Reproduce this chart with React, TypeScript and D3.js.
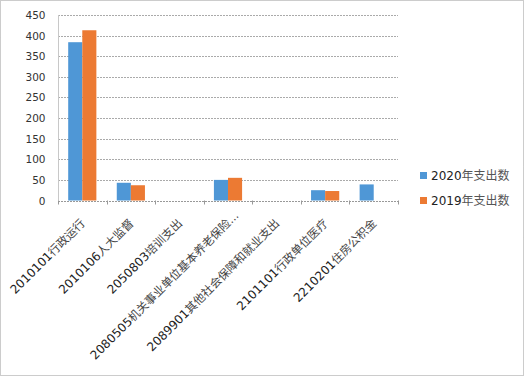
import React from 'react';
import * as d3 from 'd3';

const categories = [
  '2010101行政运行',
  '2010106人大监督',
  '2050803培训支出',
  '2080505机关事业单位基本养老保险…',
  '2089901其他社会保障和就业支出',
  '2101101行政单位医疗',
  '2210201住房公积金',
];
const seriesNames = ['2020年支出数', '2019年支出数'];
const values2020 = [384, 43, 0, 50, 0, 25, 39];
const values2019 = [413, 37, 0, 55, 0, 23, 0];
const yTicks = [0, 50, 100, 150, 200, 250, 300, 350, 400, 450];
const colors = ['#4f97d6', '#ec7a33'];

function splitLabel(s: string): [string, string, string] {
  const m = s.match(/^(\d+)(.*?)(…?)$/);
  return m ? [m[1], m[2], m[3]] : ['', s, ''];
}

const LATIN = '"DejaVu Sans", Verdana, sans-serif';
const CJK = '"Noto Sans CJK SC", sans-serif';

export default function App() {
  const W = 525, H = 377;
  const left = 58, right = 398, top = 15, bottom = 200.5;
  const x = d3.scaleBand<string>().domain(categories).range([left, right]).paddingInner(0.42).paddingOuter(0.21);
  const y = d3.scaleLinear().domain([0, 450]).range([bottom, top]);
  const xs = d3.scaleBand<string>().domain(seriesNames).range([0, x.bandwidth()]);
  const step = (right - left) / categories.length;
  const series = [values2020, values2019];
  return (
    <svg width={W} height={H} style={{ position: 'absolute', left: 0, top: 0, background: '#fff' }} fontFamily={LATIN}>
      <rect x={0.5} y={0.5} width={W - 2} height={H - 2} fill="#fff" stroke="#999" strokeDasharray="1,1" />
      {yTicks.map((t) => (
        <g key={t}>
          {t > 0 && (
            <line x1={left} x2={right} y1={Math.round(y(t)) + 0.5} y2={Math.round(y(t)) + 0.5} stroke="#aaa" strokeDasharray="2,1" />
          )}
          <text x={45.5} y={y(t) + 4} textAnchor="end" fontSize={10.5} fill="#333">{t}</text>
        </g>
      ))}
      <line x1={left + 0.5} x2={left + 0.5} y1={top} y2={bottom} stroke="#c8c8c8" />
      {categories.map((c, i) =>
        series.map((vals, s) => {
          const v = vals[i];
          if (!v) return null;
          return (
            <rect key={c + s} x={(x(c) as number) + (xs(seriesNames[s]) as number)} y={y(v)} width={xs.bandwidth()} height={bottom - y(v)} fill={colors[s]} />
          );
        })
      )}
      <line x1={left} x2={right} y1={Math.round(bottom) + 0.5} y2={Math.round(bottom) + 0.5} stroke="#999" strokeDasharray="2,1" />
      {d3.range(categories.length + 1).map((i) => (
        <line key={i} x1={Math.round(left + i * step) + 0.5} x2={Math.round(left + i * step) + 0.5} y1={bottom} y2={bottom + 4} stroke="#999" />
      ))}
      {categories.map((c, i) => {
        const cx = left + (i + 0.5) * step + 3.5;
        const cy = 224;
        const [code, rest, ell] = splitLabel(c);
        return (
          <g key={c} transform={`rotate(-45 ${cx} ${cy})`}>
            <text x={cx} y={cy} textAnchor="end" fill="#222">
              <tspan fontSize={12}>{code}</tspan>
              <tspan fontSize={11.6} fontFamily={CJK} fill="#444">{rest}</tspan>
            </text>
            {ell && (
              <text x={cx} y={cy} textAnchor="start" fontSize={11} fill="#333">{ell}</text>
            )}
          </g>
        );
      })}
      {seriesNames.map((n, s) => {
        const [code, rest] = splitLabel(n);
        return (
          <g key={n}>
            <rect x={420} y={172 + s * 25} width={7} height={7} fill={colors[s]} />
            <text x={431} y={180 + s * 25} fill="#222">
              <tspan fontSize={12}>{code}</tspan>
              <tspan fontSize={12} fontFamily={CJK} fill="#555">{rest}</tspan>
            </text>
          </g>
        );
      })}
    </svg>
  );
}
